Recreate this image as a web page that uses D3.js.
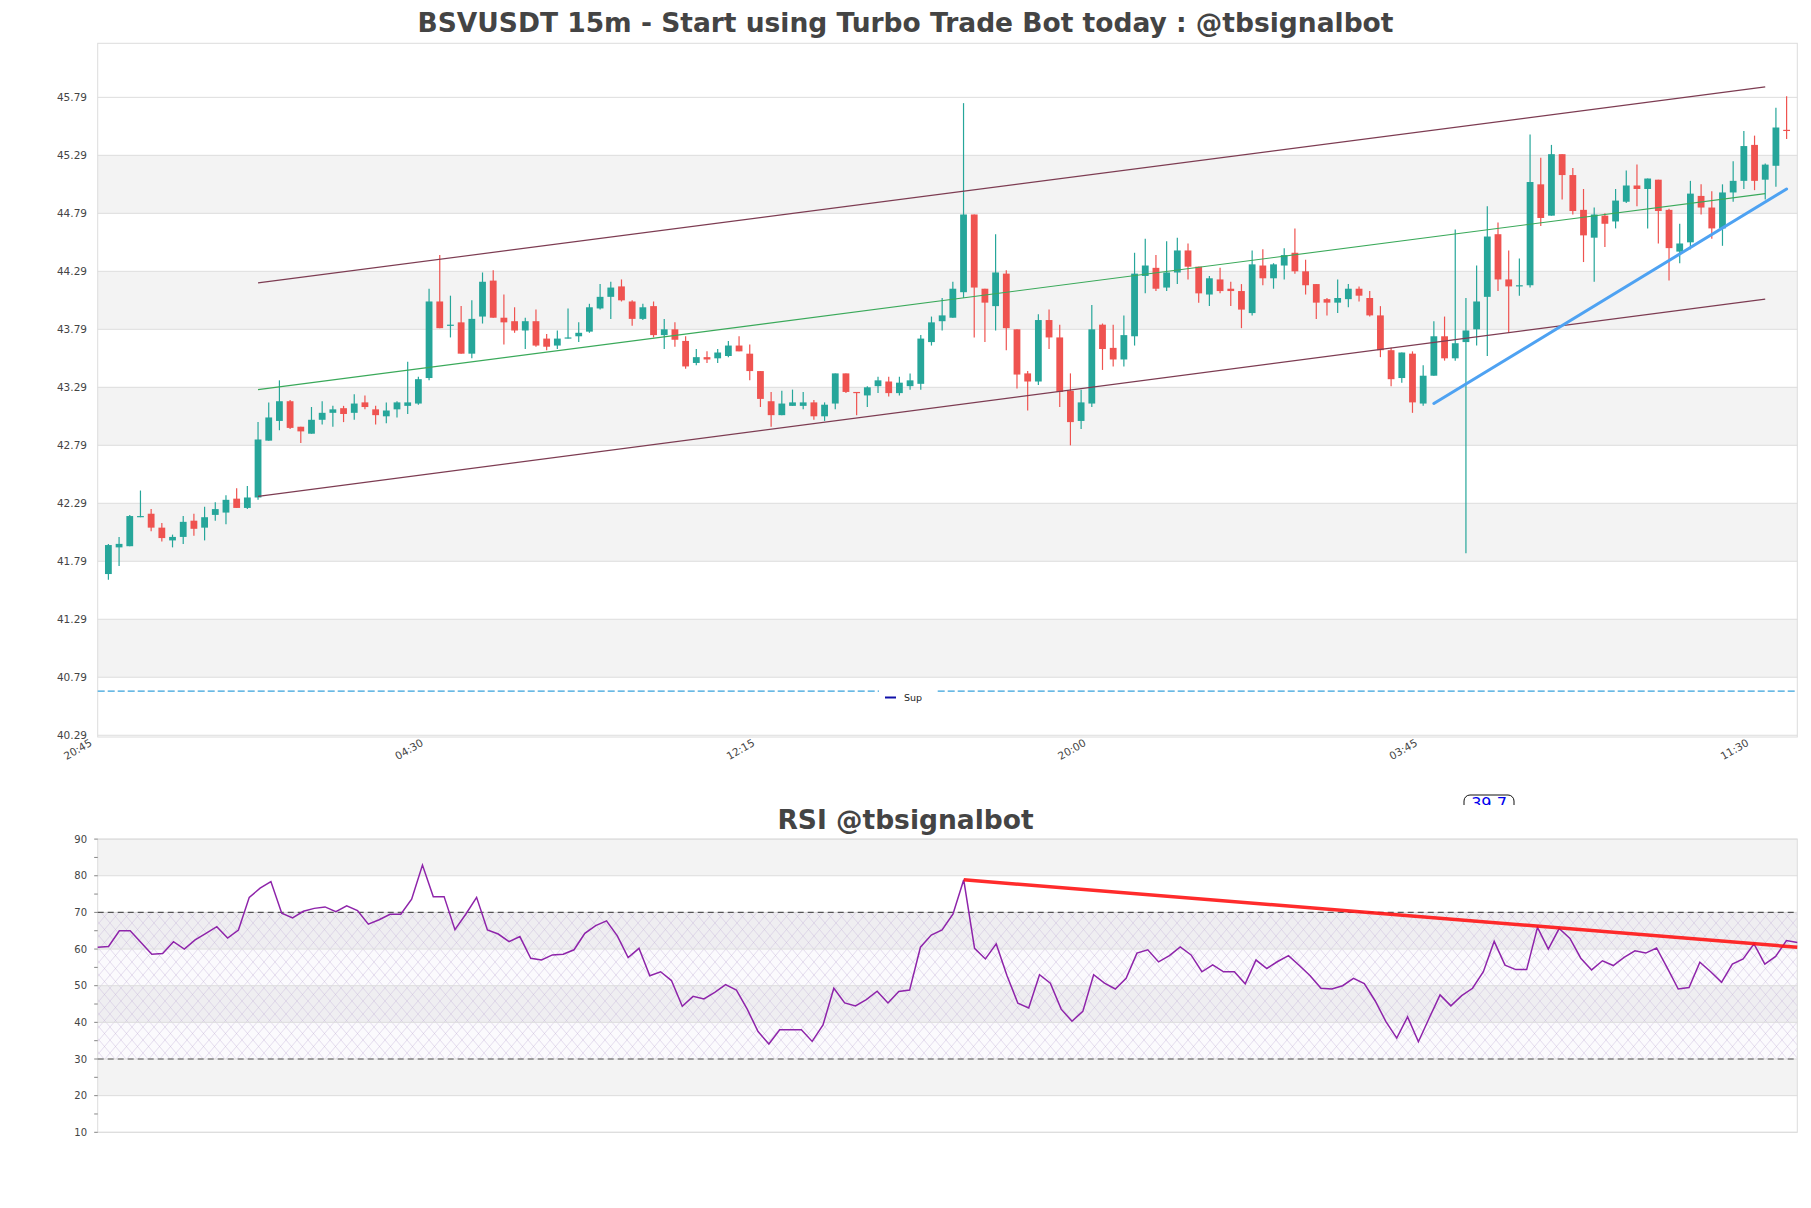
<!DOCTYPE html>
<html lang="en">
<head>
<meta charset="UTF-8">
<title>BSVUSDT 15m</title>
<script src="https://cdn.jsdelivr.net/npm/d3@7"></script>
<style>
    body { margin: 0; background: #fff; font-family: 'DejaVu Sans', sans-serif; }
    svg text { fill: #444; }
</style>
</head>
<body>
<svg id="chart" width="1811" height="1208"></svg>
<script>
// candle data, one entry per 15m bar (first bar right after 20:45)
const opens = [41.68,41.91,41.92,42.17,42.20,42.08,41.97,42.00,42.14,42.08,42.19,42.21,42.33,42.25,42.34,42.83,43.00,43.17,42.95,42.89,
    43.01,43.07,43.11,43.07,43.16,43.10,43.04,43.10,43.13,43.15,43.37,44.03,43.82,43.85,43.58,43.90,44.21,43.89,43.86,43.78,
    43.86,43.71,43.65,43.72,43.73,43.77,43.97,44.07,44.16,44.03,43.88,43.99,43.74,43.79,43.69,43.50,43.55,43.54,43.56,43.65,
    43.58,43.43,43.17,43.05,43.13,43.13,43.16,43.04,43.15,43.41,43.25,43.22,43.30,43.34,43.24,43.30,43.32,43.68,43.86,43.89,
    44.11,44.78,44.14,43.99,44.27,43.79,43.41,43.34,43.87,43.72,43.26,43.00,43.15,43.83,43.63,43.53,43.73,44.25,44.32,44.15,
    44.28,44.47,44.33,44.09,44.22,44.14,44.12,43.93,44.34,44.23,44.34,44.45,44.29,44.18,44.05,44.02,44.05,44.14,44.06,43.91,
    43.61,43.37,43.58,43.15,43.39,43.73,43.54,43.68,43.79,44.07,44.61,44.22,44.16,44.17,45.04,44.77,45.30,45.12,44.82,44.58,
    44.77,44.72,44.89,45.03,45.00,45.08,44.82,44.46,44.54,44.94,44.84,44.66,44.97,45.07,45.38,45.08,45.20,45.51];
const highs = [41.94,42.00,42.19,42.40,42.24,42.12,42.02,42.18,42.20,42.26,42.30,42.36,42.42,42.44,42.99,43.16,43.35,43.18,42.95,43.12,
    43.17,43.13,43.13,43.23,43.22,43.13,43.16,43.17,43.51,43.38,44.14,44.43,44.08,43.99,44.04,44.28,44.30,44.09,43.98,43.89,
    43.96,43.75,43.78,43.97,43.85,44.01,44.18,44.20,44.22,44.04,44.01,44.03,43.88,43.85,43.73,43.62,43.60,43.62,43.69,43.73,
    43.66,43.43,43.25,43.26,43.27,43.25,43.18,43.16,43.41,43.41,43.25,43.30,43.38,43.38,43.38,43.41,43.74,43.90,44.06,44.20,
    45.74,44.78,44.14,44.61,44.30,43.79,43.43,43.92,43.96,43.83,43.41,43.27,44.00,43.84,43.83,43.91,44.45,44.57,44.43,44.55,
    44.58,44.53,44.33,44.25,44.32,44.20,44.18,44.47,44.48,44.36,44.49,44.66,44.39,44.18,44.06,44.22,44.18,44.16,44.12,43.99,
    43.63,43.59,43.60,43.48,43.86,43.90,44.65,44.06,44.34,44.85,44.71,44.47,44.40,45.47,45.27,45.38,45.30,45.18,45.00,44.84,
    44.79,45.00,45.16,45.21,45.09,45.08,44.83,44.70,45.07,45.04,44.98,45.04,45.24,45.50,45.46,45.22,45.70,45.80];
const lows = [41.63,41.75,41.92,42.17,42.05,41.96,41.91,41.94,42.01,41.97,42.14,42.11,42.25,42.24,42.32,42.83,42.92,42.93,42.81,42.89,
    42.97,42.95,42.99,43.01,43.10,42.97,42.98,43.03,43.06,43.14,43.35,43.80,43.72,43.58,43.54,43.84,43.89,43.66,43.76,43.62,
    43.64,43.61,43.62,43.71,43.68,43.76,43.96,43.88,44.03,43.82,43.87,43.72,43.62,43.64,43.45,43.48,43.50,43.50,43.55,43.60,
    43.35,43.12,42.95,43.05,43.13,43.10,43.01,43.00,43.10,43.24,43.05,43.12,43.24,43.21,43.22,43.27,43.27,43.65,43.78,43.89,
    44.06,43.72,43.68,43.78,43.61,43.28,43.09,43.31,43.62,43.12,42.79,42.93,43.12,43.44,43.47,43.47,43.65,44.10,44.12,44.12,
    44.18,44.22,44.02,43.99,44.10,43.99,43.80,43.91,44.17,44.14,44.22,44.27,44.09,43.88,43.91,43.93,43.98,44.03,43.90,43.55,
    43.30,43.33,43.07,43.13,43.39,43.52,43.52,41.86,43.65,43.56,44.12,43.76,44.08,44.15,44.68,44.77,44.91,44.78,44.37,44.20,
    44.50,44.66,44.88,44.85,44.66,44.53,44.21,44.36,44.48,44.78,44.57,44.51,44.89,45.00,44.99,44.91,45.02,45.43];
const closes = [41.93,41.94,42.18,42.18,42.08,41.99,42.00,42.13,42.07,42.17,42.24,42.32,42.25,42.34,42.84,43.03,43.17,42.94,42.91,43.01,
    43.07,43.10,43.06,43.15,43.12,43.05,43.09,43.16,43.16,43.36,44.03,43.80,43.83,43.58,43.88,44.20,43.89,43.85,43.78,43.86,
    43.65,43.64,43.71,43.72,43.76,43.98,44.07,44.15,44.04,43.88,43.98,43.74,43.79,43.70,43.47,43.55,43.53,43.59,43.65,43.60,
    43.43,43.19,43.05,43.15,43.16,43.16,43.04,43.14,43.41,43.25,43.24,43.29,43.35,43.24,43.33,43.35,43.71,43.85,43.91,44.14,
    44.78,44.15,44.02,44.28,43.80,43.40,43.34,43.87,43.72,43.25,42.99,43.16,43.79,43.62,43.53,43.74,44.27,44.34,44.14,44.28,
    44.47,44.33,44.10,44.23,44.12,44.12,43.96,44.35,44.23,44.35,44.43,44.29,44.17,44.02,44.02,44.06,44.14,44.08,43.91,43.61,
    43.36,43.59,43.16,43.39,43.73,43.54,43.67,43.78,44.03,44.59,44.22,44.16,44.17,45.06,44.75,45.30,45.12,44.81,44.60,44.78,
    44.70,44.90,45.03,45.00,45.09,44.81,44.49,44.53,44.96,44.84,44.66,44.97,45.07,45.37,45.07,45.21,45.53,45.50];

// RSI(14), one value per bar
const rsi = [60.5,60.7,65.0,65.0,61.8,58.6,58.8,62.0,60.0,62.5,64.3,66.1,63.0,65.2,74.1,76.6,78.4,69.8,68.5,70.3,
    71.1,71.5,70.2,71.8,70.5,66.8,68.0,69.5,69.5,73.6,82.9,74.3,74.3,65.3,69.5,74.1,65.2,64.1,62.0,63.4,
    57.5,57.0,58.4,58.6,59.8,64.3,66.4,67.7,63.6,57.7,60.2,52.7,53.8,51.4,44.4,47.1,46.4,48.2,50.3,48.8,
    43.6,37.5,34.1,38.0,38.0,38.0,34.8,39.3,49.3,45.3,44.5,46.2,48.5,45.3,48.4,48.8,60.5,63.8,65.2,69.5,
    78.9,60.2,57.3,61.4,52.7,45.2,43.9,53.0,50.7,43.6,40.3,43.0,53.0,50.7,49.1,52.0,58.9,59.8,56.5,58.2,
    60.6,58.4,53.8,55.7,53.8,53.8,50.5,57.0,54.7,56.6,58.2,55.5,52.7,49.3,49.1,50.0,52.0,50.6,45.9,40.2,
    35.7,41.5,34.7,41.2,47.5,44.5,47.3,49.3,53.8,62.1,55.6,54.4,54.4,65.9,60.0,65.6,62.9,57.5,54.3,56.8,
    55.5,57.7,59.5,58.9,60.3,54.8,49.1,49.5,56.4,53.8,50.9,55.9,57.3,61.4,55.9,58.0,62.3,61.8];

const timeLabels = ['20:45', '04:30', '12:15', '20:00', '03:45', '11:30'];
const timeTicks = [-1, 30, 61, 92, 123, 154];   // bar positions of the labels
const priceTicks = [40.29, 40.79, 41.29, 41.79, 42.29, 42.79, 43.29, 43.79, 44.29, 44.79, 45.29, 45.79];
const rsiTicks = [10, 20, 30, 40, 50, 60, 70, 80, 90];
const rsiMinorTicks = [15, 25, 35, 45, 55, 65, 75, 85];

// drawn lines: [bar, price] end points
const channelUpper = [[14, 44.19], [155, 45.88]];
const channelLower = [[14, 42.35], [155, 44.05]];
const channelMid = [[14, 43.27], [155, 44.96]];
const trendUp = [[124, 43.15], [157, 45.00]];
const rsiTrend = [[80, 78.9], [157, 60.5]];
const supportLevel = 40.67;
const rsiBadge = '39.7';

const svg = d3.select('#chart');
const left = 97.7, right = 1797.3;

// ---------- price panel ----------
const x = d3.scaleLinear().domain([-1, 158]).range([left, right]);
const y = d3.scaleLinear().domain([40.275, 46.256]).range([737, 43.3]);

svg.append('text')
    .attr('x', 905.5).attr('y', 32)
    .attr('text-anchor', 'middle')
    .style('font-size', '26.5px').style('font-weight', 'bold')
    .text('BSVUSDT 15m - Start using Turbo Trade Bot today : @tbsignalbot');

const price = svg.append('g');

// alternating bands between gridlines
price.selectAll('.band')
    .data(priceTicks.slice(0, -1).map((t, k) => [t, priceTicks[k + 1], k]).filter(d => d[2] % 2 === 1))
    .enter().append('rect')
    .attr('x', left).attr('width', right - left)
    .attr('y', d => y(d[1])).attr('height', d => y(d[0]) - y(d[1]))
    .attr('fill', '#f3f3f3');

price.selectAll('.grid')
    .data(priceTicks)
    .enter().append('line')
    .attr('x1', left).attr('x2', right)
    .attr('y1', d => y(d)).attr('y2', d => y(d))
    .attr('stroke', '#dddddd').attr('stroke-width', 1);

price.append('rect')
    .attr('x', left).attr('y', 43.3)
    .attr('width', right - left).attr('height', 737 - 43.3)
    .attr('fill', 'none').attr('stroke', '#dcdcdc');

price.selectAll('.ylab')
    .data(priceTicks)
    .enter().append('text')
    .attr('x', 87).attr('y', d => y(d) + 3.5)
    .attr('text-anchor', 'end')
    .style('font-size', '10.5px')
    .text(d => d.toFixed(2));

price.selectAll('.xlab')
    .data(timeTicks)
    .enter().append('text')
    .attr('transform', d => `translate(${x(d) - 5},745) rotate(-30)`)
    .attr('text-anchor', 'end')
    .style('font-size', '10.5px')
    .text((d, k) => timeLabels[k]);

// support line + legend
price.append('line')
    .attr('x1', left).attr('x2', right)
    .attr('y1', y(supportLevel)).attr('y2', y(supportLevel))
    .attr('stroke', '#38a2dc').attr('stroke-width', 1.2)
    .attr('stroke-dasharray', '7,3');

const legend = price.append('g');
legend.append('rect')
    .attr('x', 879).attr('y', 683).attr('width', 56).attr('height', 28)
    .attr('fill', '#fff');
legend.append('line')
    .attr('x1', 885).attr('x2', 896).attr('y1', 697.5).attr('y2', 697.5)
    .attr('stroke', '#1010a8').attr('stroke-width', 2);
legend.append('text')
    .attr('x', 904).attr('y', 700.5)
    .style('font-size', '9.5px').style('fill', '#222')
    .text('Sup');

// candles
const candles = price.selectAll('.candle')
    .data(opens.map((o, i) => ({ i, o, h: highs[i], l: lows[i], c: closes[i] })))
    .enter().append('g');

candles.append('line')
    .attr('x1', d => x(d.i)).attr('x2', d => x(d.i))
    .attr('y1', d => y(d.h)).attr('y2', d => y(d.l))
    .attr('stroke', d => d.c >= d.o ? '#26a69a' : '#ef5350')
    .attr('stroke-width', 1.2);

candles.append('rect')
    .attr('x', d => x(d.i) - 3.4).attr('width', 6.8)
    .attr('y', d => y(Math.max(d.o, d.c)))
    .attr('height', d => Math.max(1.2, Math.abs(y(d.o) - y(d.c))))
    .attr('fill', d => d.c >= d.o ? '#26a69a' : '#ef5350');

const seg = (g, pts, color, width, sx, sy) => g.append('line')
    .attr('x1', sx(pts[0][0])).attr('y1', sy(pts[0][1]))
    .attr('x2', sx(pts[1][0])).attr('y2', sy(pts[1][1]))
    .attr('stroke', color).attr('stroke-width', width);

seg(price, channelUpper, '#7d3c52', 1.2, x, y);
seg(price, channelLower, '#7d3c52', 1.2, x, y);
seg(price, channelMid, '#3aa95a', 1.1, x, y);
seg(price, trendUp, '#4ea2f2', 3, x, y).attr('stroke-linecap', 'round');

// half hidden RSI badge
svg.append('clipPath').attr('id', 'badgeClip')
    .append('rect').attr('x', 1450).attr('y', 780).attr('width', 90).attr('height', 25);
const badge = svg.append('g').attr('clip-path', 'url(#badgeClip)');
badge.append('rect')
    .attr('x', 1464).attr('y', 795).attr('width', 50).attr('height', 26).attr('rx', 6)
    .attr('fill', '#fff').attr('stroke', '#111').attr('stroke-width', 1);
badge.append('text')
    .attr('x', 1489).attr('y', 809).attr('text-anchor', 'middle')
    .style('font-size', '16px').style('fill', '#0000ee')
    .text(rsiBadge);

// ---------- RSI panel ----------
const rx = d3.scaleLinear().domain([0, rsi.length - 1]).range([left, right]);
const ry = d3.scaleLinear().domain([10, 90]).range([1132.3, 839.1]);

svg.append('text')
    .attr('x', 905.5).attr('y', 829)
    .attr('text-anchor', 'middle')
    .style('font-size', '26.5px').style('font-weight', 'bold')
    .text('RSI @tbsignalbot');

const defs = svg.append('defs');
const pat = defs.append('pattern')
    .attr('id', 'hatch').attr('patternUnits', 'userSpaceOnUse')
    .attr('width', 11).attr('height', 13);
pat.append('path')
    .attr('d', 'M0,0 L11,13 M11,0 L0,13')
    .attr('stroke', '#cbbcdc').attr('stroke-width', 0.5).attr('fill', 'none');

const panel = svg.append('g');

panel.selectAll('.band')
    .data(rsiTicks.slice(0, -1).map((t, k) => [t, rsiTicks[k + 1], k]).filter(d => d[2] % 2 === 1))
    .enter().append('rect')
    .attr('x', left).attr('width', right - left)
    .attr('y', d => ry(d[1])).attr('height', d => ry(d[0]) - ry(d[1]))
    .attr('fill', '#f3f3f3');

panel.append('rect')
    .attr('x', left).attr('width', right - left)
    .attr('y', ry(70)).attr('height', ry(30) - ry(70))
    .attr('fill', 'rgba(205,180,228,0.07)');
panel.append('rect')
    .attr('x', left).attr('width', right - left)
    .attr('y', ry(70)).attr('height', ry(30) - ry(70))
    .attr('fill', 'url(#hatch)');

panel.selectAll('.grid')
    .data(rsiTicks)
    .enter().append('line')
    .attr('x1', left).attr('x2', right)
    .attr('y1', d => ry(d)).attr('y2', d => ry(d))
    .attr('stroke', '#dddddd');

panel.append('rect')
    .attr('x', left).attr('y', ry(90))
    .attr('width', right - left).attr('height', ry(10) - ry(90))
    .attr('fill', 'none').attr('stroke', '#dcdcdc');

panel.selectAll('.tick')
    .data(rsiTicks.concat(rsiMinorTicks))
    .enter().append('line')
    .attr('x1', left - 3.5).attr('x2', left)
    .attr('y1', d => ry(d)).attr('y2', d => ry(d))
    .attr('stroke', '#666').attr('stroke-width', 0.8);

panel.selectAll('.ylab')
    .data(rsiTicks)
    .enter().append('text')
    .attr('x', 87).attr('y', d => ry(d) + 3.5)
    .attr('text-anchor', 'end')
    .style('font-size', '10px')
    .text(d => d);

[70, 30].forEach(v => {
    panel.append('line')
        .attr('x1', left).attr('x2', right)
        .attr('y1', ry(v)).attr('y2', ry(v))
        .attr('stroke', '#555').attr('stroke-width', 1.2)
        .attr('stroke-dasharray', '6,4');
});

panel.append('path')
    .datum(rsi)
    .attr('d', d3.line().x((d, k) => rx(k)).y(d => ry(d)))
    .attr('fill', 'none')
    .attr('stroke', '#8e24aa').attr('stroke-width', 1.5);

seg(panel, rsiTrend, 'rgba(255,20,20,0.9)', 3.5, rx, ry);
</script>
</body>
</html>
